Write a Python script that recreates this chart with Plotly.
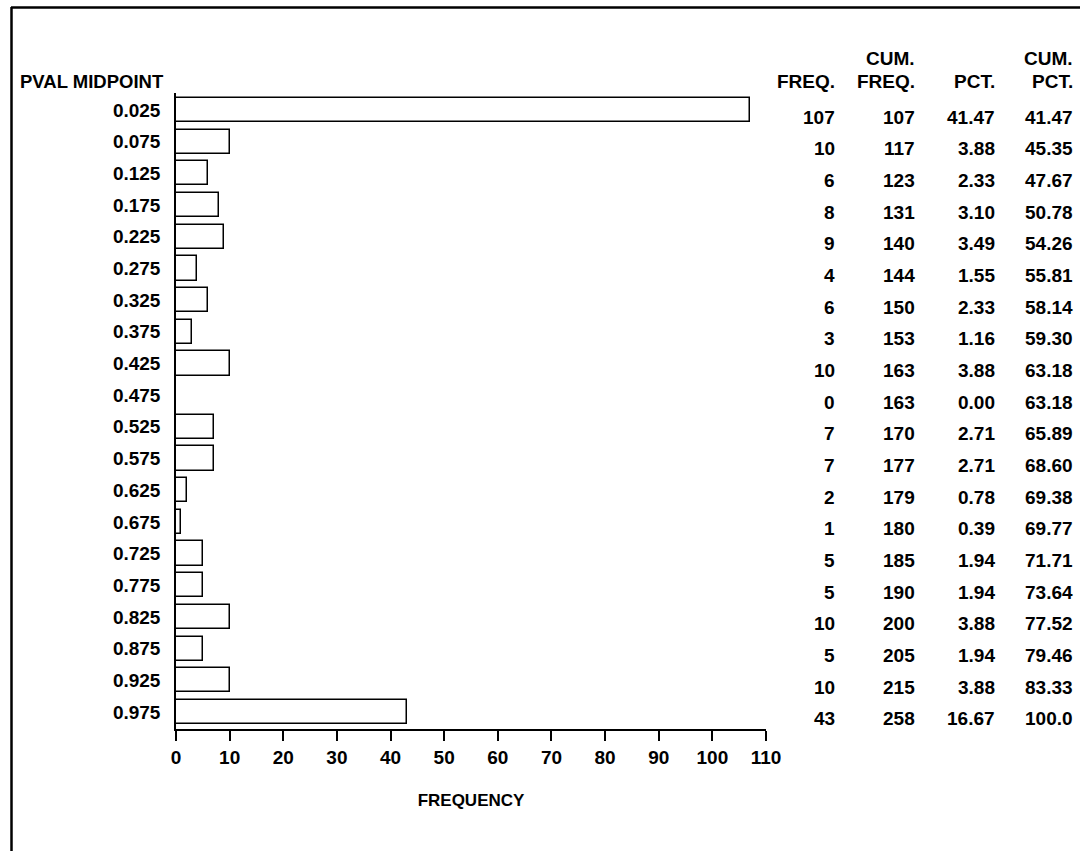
import plotly.graph_objects as go

midpoints = ["0.025", "0.075", "0.125", "0.175", "0.225", "0.275", "0.325", "0.375",
             "0.425", "0.475", "0.525", "0.575", "0.625", "0.675", "0.725", "0.775",
             "0.825", "0.875", "0.925", "0.975"]
freq = [107, 10, 6, 8, 9, 4, 6, 3, 10, 0, 7, 7, 2, 1, 5, 5, 10, 5, 10, 43]
cum_freq = [107, 117, 123, 131, 140, 144, 150, 153, 163, 163, 170, 177, 179, 180,
            185, 190, 200, 205, 215, 258]
pct = ["41.47", "3.88", "2.33", "3.10", "3.49", "1.55", "2.33", "1.16", "3.88", "0.00",
       "2.71", "2.71", "0.78", "0.39", "1.94", "1.94", "3.88", "1.94", "3.88", "16.67"]
cum_pct = ["41.47", "45.35", "47.67", "50.78", "54.26", "55.81", "58.14", "59.30",
           "63.18", "63.18", "65.89", "68.60", "69.38", "69.77", "71.71", "73.64",
           "77.52", "79.46", "83.33", "100.0"]
x_ticks = list(range(0, 111, 10))

W, H = 1080, 851
L, R = 176, 766          # pixel span of x axis (0..110)
T, B = 93, 729           # pixel span of y axis
FONT = "Liberation Sans, Arial, sans-serif"
FS = 19

def px(xp):
    return (xp - L) / (R - L)

def py(yp):
    return (B - yp) / (B - T)

pos = list(range(len(midpoints)))

fig = go.Figure()
fig.add_trace(go.Bar(
    x=freq, y=pos, orientation="h", width=0.76,
    marker=dict(color="white", line=dict(color="black", width=1.5)),
    hoverinfo="skip", showlegend=False,
))

ann = []
ann.append(dict(text="PVAL MIDPOINT", xref="paper", yref="paper", x=px(166), y=py(82),
                xanchor="right", yanchor="middle", showarrow=False,
                font=dict(size=18.5)))
col_right = [837, 917, 997, 1075]
cols = [[str(v) for v in freq], [str(v) for v in cum_freq], pct, cum_pct]
headers_top = ["", "CUM.", "", "CUM."]
headers_bot = ["FREQ.", "FREQ.", "PCT.", "PCT."]
for c, xr in enumerate(col_right):
    if headers_top[c]:
        ann.append(dict(text=headers_top[c], xref="paper", yref="paper", x=px(xr), y=py(59),
                        xanchor="right", yanchor="middle", showarrow=False))
    ann.append(dict(text=headers_bot[c], xref="paper", yref="paper", x=px(xr), y=py(82),
                    xanchor="right", yanchor="middle", showarrow=False))
    for i, v in enumerate(cols[c]):
        ann.append(dict(text=v, xref="paper", yref="y", x=px(xr), y=i + 0.22,
                        xanchor="right", yanchor="middle", showarrow=False))

shapes = [
    dict(type="line", xref="paper", yref="paper", x0=px(11.5), x1=px(11.5), y0=py(7), y1=py(851),
         line=dict(color="black", width=2.5)),
    dict(type="line", xref="paper", yref="paper", x0=px(11), x1=px(1080), y0=py(7.5), y1=py(7.5),
         line=dict(color="black", width=2.5)),
]

fig.update_layout(
    width=W, height=H,
    margin=dict(l=L, r=W - R, t=T, b=H - B, pad=0),
    paper_bgcolor="white", plot_bgcolor="white",
    font=dict(family=FONT, size=FS, color="black", weight="bold"),
    annotations=ann, shapes=shapes,
    bargap=0,
    xaxis=dict(range=[0, 110], tickvals=x_ticks, ticks="outside", ticklen=10, tickwidth=1.5,
               tickcolor="black", showline=True, linecolor="black", linewidth=1.5,
               showgrid=False, zeroline=False,
               title=dict(text="FREQUENCY", standoff=28, font=dict(size=17))),
    yaxis=dict(range=[19.54, -0.54], tickvals=pos, ticktext=midpoints, ticks="",
               ticklabelstandoff=10,
               showline=True, linecolor="black", linewidth=1.5, showgrid=False, zeroline=False),
)

fig.write_html("out.html")
